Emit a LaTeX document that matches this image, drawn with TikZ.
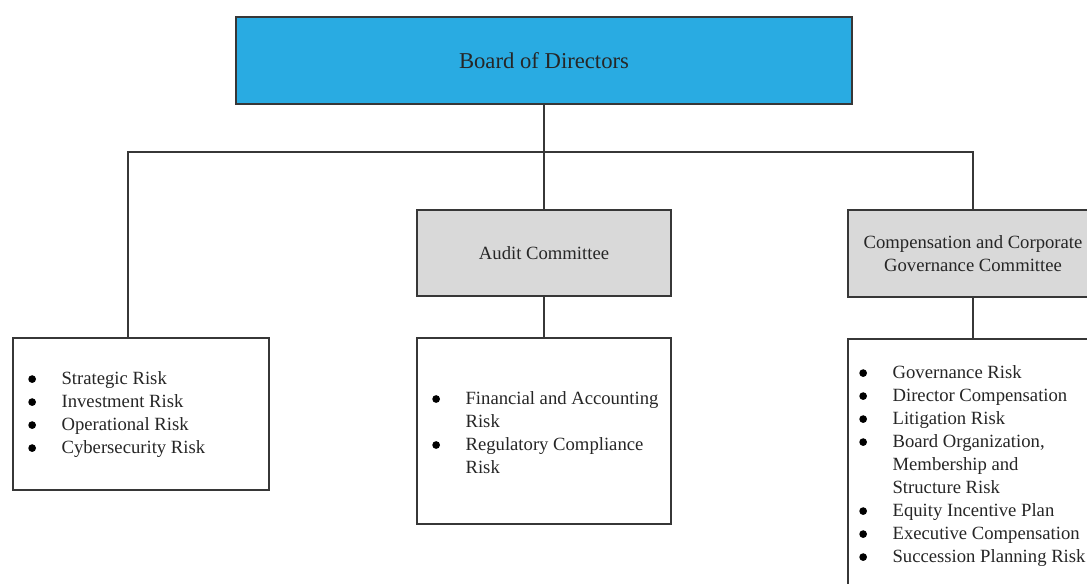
\documentclass[tikz,border=0pt]{standalone}
\usepackage{fontspec}
\setmainfont{Liberation Serif}
\usepackage{xcolor}
\usepackage{tikz}

\definecolor{boardblue}{RGB}{41,171,226}
\definecolor{commgray}{RGB}{217,217,217}
\definecolor{edgegray}{RGB}{55,55,55}
\newdimen\px \px=0.75pt

\tikzset{
  box/.style={draw=edgegray, line width=1.3\px, inner sep=0pt, text=black!85},
  listtext/.style={anchor=west, inner sep=0pt, align=left, text=black!85,
    font=\fontsize{14}{17.25}\selectfont},
  conn/.style={draw=edgegray, line width=1.1\px},
}
\newcommand{\riskbullet}{\makebox[25pt][l]{\tikz[x=1pt, y=1pt, baseline=-4.4pt]\fill[black] (0,0) circle (2.9pt);}}
\newcommand{\riskindent}{\hspace*{25pt}}

\begin{document}
\begin{tikzpicture}[x=\px, y=-\px]
    \useasboundingbox (0,0) rectangle (1087,584);
    \clip (0,0) rectangle (1087,584);
    \fill[white] (0,0) rectangle (1087,584);

    % Board
    \node[box, fill=boardblue, minimum width=616\px, minimum height=87\px,
      font=\fontsize{17}{20}\selectfont] (board) at (544,60.5) {Board of Directors};

    % Committees
    \node[box, fill=commgray, minimum width=254\px, minimum height=86\px,
      font=\fontsize{14}{17.25}\selectfont] (audit) at (544,253) {Audit Committee};
    \node[box, fill=commgray, minimum width=250\px, minimum height=87\px, align=center,
      font=\fontsize{14}{17.25}\selectfont] (govcomm) at (973,253.5)
      {Compensation and Corporate\\Governance Committee};

    % Risk boxes
    \node[box, minimum width=256\px, minimum height=152\px] (stratbox) at (141,414) {};
    \node[box, minimum width=254\px, minimum height=186\px] (finbox) at (544,431) {};
    \node[box, minimum width=250\px, minimum height=261\px] (govbox) at (973,469.5) {};

    % Risk lists
    \node[listtext] (stratlist) at (28,415) {%
      \riskbullet Strategic Risk\\
      \riskbullet Investment Risk\\
      \riskbullet Operational Risk\\
      \riskbullet Cybersecurity Risk};
    \node[listtext] (finlist) at (432,433) {%
      \riskbullet Financial and Accounting\\
      \riskindent Risk\\
      \riskbullet Regulatory Compliance\\
      \riskindent Risk};
    \node[listtext] (govlist) at (859,466.5) {%
      \riskbullet Governance Risk\\
      \riskbullet Director Compensation\\
      \riskbullet Litigation Risk\\
      \riskbullet Board Organization,\\
      \riskindent Membership and\\
      \riskindent Structure Risk\\
      \riskbullet Equity Incentive Plan\\
      \riskbullet Executive Compensation\\
      \riskbullet Succession Planning Risk};

    % Connectors
    \coordinate (stratdrop) at (128,152);
    \draw[conn] (board) -- (audit);
    \draw[conn] (stratdrop |- stratbox.north) -- (stratdrop) -- (stratdrop -| govcomm) -- (govcomm.north);
    \draw[conn] (audit) -- (finbox);
    \draw[conn] (govcomm) -- (govbox);
\end{tikzpicture}
\end{document}
